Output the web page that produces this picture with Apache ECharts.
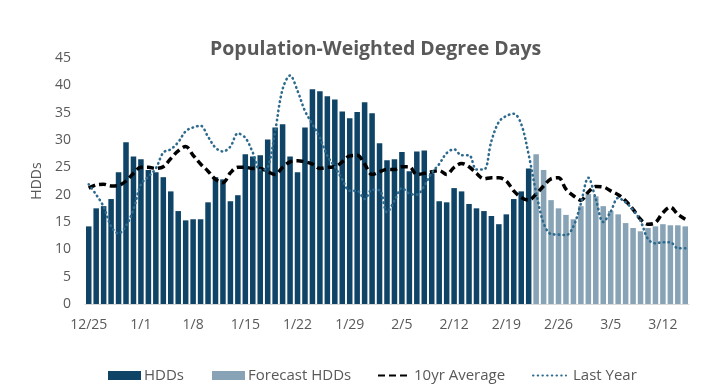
<!DOCTYPE html>
<html><head><meta charset="utf-8">
<script src="https://cdn.jsdelivr.net/npm/echarts@6/dist/echarts.min.js"></script>
<style>html,body{margin:0;padding:0;background:#fff}#c{width:709px;height:391px}</style>
</head><body><div id="c"></div>
<script>
const categories = [
 '12/25','12/26','12/27','12/28','12/29','12/30','12/31',
 '1/1','1/2','1/3','1/4','1/5','1/6','1/7','1/8','1/9','1/10','1/11','1/12','1/13','1/14','1/15','1/16','1/17','1/18','1/19','1/20','1/21','1/22','1/23','1/24','1/25','1/26','1/27','1/28','1/29','1/30','1/31',
 '2/1','2/2','2/3','2/4','2/5','2/6','2/7','2/8','2/9','2/10','2/11','2/12','2/13','2/14','2/15','2/16','2/17','2/18','2/19','2/20','2/21','2/22','2/23','2/24','2/25','2/26','2/27','2/28',
 '3/1','3/2','3/3','3/4','3/5','3/6','3/7','3/8','3/9','3/10','3/11','3/12','3/13','3/14','3/15'
];
// Observed HDDs 12/25 - 2/22
const hdds = [14.2,17.5,17.9,19.2,24.1,29.6,27.0,26.5,24.5,24.1,23.2,20.6,17.0,15.3,15.5,15.5,18.6,23.2,22.8,18.8,19.9,27.4,27.0,27.2,30.1,32.3,32.9,27.0,24.1,32.3,39.3,38.9,38.0,37.4,35.2,34.0,35.1,36.9,34.9,29.4,26.3,26.5,27.8,24.3,27.9,28.1,23.9,18.8,18.6,21.2,20.6,18.3,17.5,17.0,16.1,14.6,16.4,19.2,20.6,24.8];
// Forecast HDDs 2/23 - 3/15
const forecastHdds = [27.4,24.5,19.0,17.5,16.3,15.5,17.9,20.1,19.7,17.9,17.0,16.4,14.8,13.9,13.3,13.9,14.2,14.6,14.4,14.4,14.2];
const avg10yr = [21.2,21.8,21.9,21.6,21.7,22.5,23.9,25.0,25.0,24.8,25.1,26.6,28.0,28.8,27.2,25.6,24.3,22.8,22.2,24.0,25.0,25.0,24.8,24.8,24.2,23.7,25.0,26.0,26.2,26.0,25.6,24.8,25.0,25.1,26.0,27.1,27.2,25.6,23.7,24.2,24.6,24.6,25.1,25.1,23.7,23.9,24.2,24.4,23.7,25.0,25.7,25.1,23.9,22.9,23.1,23.1,22.5,20.7,19.5,19.0,20.1,21.6,22.9,23.1,21.0,19.8,19.0,20.5,21.5,21.4,20.7,20.0,18.9,17.3,15.5,14.6,14.9,16.7,17.7,16.4,15.5];
const lastYear = [21.9,20.0,17.8,14.2,12.9,14.3,17.3,21.9,23.3,24.8,27.7,28.3,29.6,31.6,32.3,32.6,30.6,28.6,27.9,28.8,31.2,30.4,27.7,24.5,25.0,31.6,39.3,41.8,39.0,35.3,32.9,30.4,27.1,25.1,22.8,20.7,20.7,19.2,20.9,20.8,16.8,18.9,21.2,20.2,20.0,21.6,24.0,25.6,27.6,28.3,27.2,27.2,24.6,24.6,29.8,33.3,34.4,34.8,32.9,27.3,20.4,14.8,12.8,12.7,12.6,14.2,18.4,23.1,19.2,15.0,16.9,19.4,18.6,17.2,15.2,11.9,11.1,11.3,11.3,10.2,10.2];
const yTicks = [0,5,10,15,20,25,30,35,40,45];

const hddSeries = categories.map((_, i) => i < hdds.length ? hdds[i] : null);
const fcSeries = categories.map((_, i) => i >= hdds.length ? forecastHdds[i - hdds.length] : null);

const FONT = '"Open Sans", "Noto Sans", sans-serif';
const TXT = '#595959';
const chart = echarts.init(document.getElementById('c'), null, {renderer: 'canvas'});
const legendBase = {
  bottom: 3, itemWidth: 33, itemHeight: 9, itemGap: 0,
  textStyle: {color: TXT, fontSize: 15, fontFamily: FONT, padding: [0, 0, 0, -2]}
};
chart.setOption({
  animation: false,
  title: {
    text: 'Population-Weighted Degree Days', left: 205, top: 34,
    textStyle: {color: TXT, fontSize: 19.5, fontWeight: 'bold', fontFamily: FONT}
  },
  legend: [
    Object.assign({}, legendBase, {left: 103, data: [{name: 'HDDs', icon: 'rect'}]}),
    Object.assign({}, legendBase, {left: 207, data: [{name: 'Forecast HDDs', icon: 'rect'}]}),
    Object.assign({}, legendBase, {left: 372, itemStyle: {opacity: 0}, data: ['10yr Average']}),
    Object.assign({}, legendBase, {left: 527, itemStyle: {opacity: 0},
      textStyle: Object.assign({}, legendBase.textStyle, {padding: [0, 0, 0, 2]}), data: ['Last Year']})
  ],
  grid: {left: 85, right: 20, top: 58, bottom: 87},
  xAxis: {
    type: 'category', data: categories, boundaryGap: true,
    axisLine: {lineStyle: {color: '#d9d9d9', width: 1}},
    axisTick: {show: false},
    axisLabel: {interval: 6, color: TXT, fontSize: 14, fontFamily: FONT, margin: 14}
  },
  yAxis: {
    type: 'value', min: 0, max: 45, interval: 5,
    name: 'HDDs', nameLocation: 'middle', nameGap: 34, nameRotate: 90,
    nameTextStyle: {color: TXT, fontSize: 14, fontFamily: FONT},
    axisLine: {show: false}, axisTick: {show: false}, splitLine: {show: false},
    axisLabel: {color: TXT, fontSize: 14, fontFamily: FONT, margin: 14,
      formatter: v => yTicks.includes(v) ? String(v) : ''}
  },
  series: [
    {name: 'HDDs', type: 'bar', data: hddSeries, barCategoryGap: '26%', barGap: '-100%',
     itemStyle: {color: '#0f4466'}},
    {name: 'Forecast HDDs', type: 'bar', data: fcSeries, barCategoryGap: '26%', barGap: '-100%',
     itemStyle: {color: '#87a3b5'}},
    {name: '10yr Average', type: 'line', data: avg10yr, smooth: 0.35, symbol: 'none',
     lineStyle: {color: '#000', width: 3.5, type: [7, 4], cap: 'butt'}, itemStyle: {color: '#000'}},
    {name: 'Last Year', type: 'line', data: lastYear, smooth: 0.35, symbol: 'none',
     lineStyle: {color: '#2e6a8e', width: 2.6, type: [0.5, 4.2], cap: 'round'}, itemStyle: {color: '#2e6a8e'}}
  ]
});
</script></body></html>
